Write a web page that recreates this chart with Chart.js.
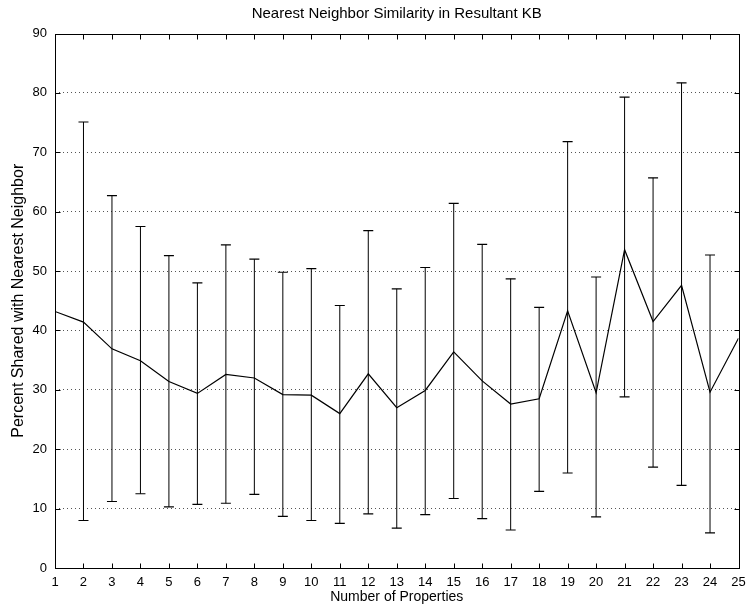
<!DOCTYPE html>
<html>
<head>
<meta charset="utf-8">
<script src="https://cdn.jsdelivr.net/npm/chart.js@4/dist/chart.umd.min.js"></script>
<style>
  html, body { margin: 0; padding: 0; background: #fff; }
  canvas { display: block; }
</style>
</head>
<body>
<canvas id="c" width="746" height="611"></canvas>
<script>
// ---- data ----
const properties = [1,2,3,4,5,6,7,8,9,10,11,12,13,14,15,16,17,18,19,20,21,22,23,24,25];
const meanShared = [43.2, 41.4, 36.9, 34.9, 31.4, 29.4, 32.6, 32.0, 29.2, 29.1, 26.0, 32.7, 27.0, 29.9, 36.4, 31.5, 27.6, 28.5, 43.3, 29.5, 53.6, 41.5, 47.6, 29.6, 38.7];
const upperShared = [null, 75.1, 62.7, 57.5, 52.6, 48.0, 54.4, 52.0, 49.8, 50.4, 44.2, 56.8, 47.0, 50.6, 61.4, 54.5, 48.7, 43.9, 71.8, 49.0, 79.3, 65.7, 81.7, 52.7, null];
const lowerShared = [null, 8.0, 11.2, 12.5, 10.3, 10.7, 10.9, 12.4, 8.7, 8.0, 7.5, 9.1, 6.7, 9.0, 11.7, 8.3, 6.4, 12.9, 16.0, 8.6, 28.8, 17.0, 13.9, 5.9, null];
const yTickValues = [0,10,20,30,40,50,60,70,80,90];

// ---- derived tables ----
const meanPts = properties.map((p, i) => ({x: p, y: meanShared[i]}));
const barPts = [];
const capPts = [];
properties.forEach((p, i) => {
  if (lowerShared[i] == null || upperShared[i] == null) return;
  barPts.push({x: p, y: lowerShared[i]}, {x: p, y: upperShared[i]}, {x: p, y: null});
  capPts.push({x: p, y: lowerShared[i]}, {x: p, y: upperShared[i]});
});

const FONT = "'Liberation Sans', Arial, Helvetica, sans-serif";

const boxPlugin = {
  id: 'boxTicks',
  afterDatasetsDraw(chart) {
    const {ctx, chartArea: a, scales: {x, y}} = chart;
    const L = Math.round(a.left) + 0.5, R = Math.round(a.right) + 0.5;
    const T = Math.round(a.top) + 0.5, B = Math.round(a.bottom) + 0.5;
    ctx.save();
    ctx.strokeStyle = '#000';
    ctx.lineWidth = 1;
    ctx.strokeRect(L, T, R - L, B - T);
    const tl = 5;
    ctx.beginPath();
    x.ticks.forEach(t => {
      const px = Math.round(x.getPixelForValue(t.value)) + 0.5;
      ctx.moveTo(px, B); ctx.lineTo(px, B - tl);
      ctx.moveTo(px, T); ctx.lineTo(px, T + tl);
    });
    y.ticks.forEach(t => {
      const py = Math.round(y.getPixelForValue(t.value)) + 0.5;
      ctx.moveTo(L, py); ctx.lineTo(L + tl, py);
      ctx.moveTo(R, py); ctx.lineTo(R - tl, py);
    });
    ctx.stroke();
    ctx.restore();
  }
};

const bgPlugin = {
  id: 'bg',
  beforeDraw(chart) {
    const ctx = chart.ctx;
    ctx.save();
    ctx.fillStyle = '#fff';
    ctx.fillRect(0, 0, chart.width, chart.height);
    ctx.restore();
  }
};

new Chart(document.getElementById('c'), {
  type: 'line',
  data: {
    datasets: [
      {
        label: 'Mean',
        data: meanPts,
        borderColor: '#000',
        borderWidth: 1.2,
        pointRadius: 0,
        tension: 0,
        fill: false
      },
      {
        label: 'Range',
        data: barPts,
        borderColor: '#000',
        borderWidth: 1,
        pointRadius: 0,
        spanGaps: false,
        tension: 0,
        fill: false
      },
      {
        label: 'Caps',
        data: capPts,
        showLine: false,
        pointStyle: 'line',
        pointRadius: 5,
        borderColor: '#000',
        borderWidth: 1.2,
        backgroundColor: '#000'
      }
    ]
  },
  options: {
    responsive: false,
    animation: false,
    events: [],
    layout: { padding: { top: 0, right: 0, bottom: 0, left: 0 } },
    plugins: {
      legend: { display: false },
      tooltip: { enabled: false },
      title: { display: false }
    },
    scales: {
      xTop: {
        type: 'linear',
        position: 'top',
        min: 1,
        max: 25,
        afterFit: s => { s.height = 33.5; s.paddingRight = 7.5; s.paddingLeft = 0; },
        ticks: { display: false },
        grid: { display: false, drawTicks: false },
        border: { display: false },
        title: {
          display: true,
          text: 'Nearest Neighbor Similarity in Resultant KB',
          color: '#000',
          font: { family: FONT, size: 15, weight: 'normal', lineHeight: 1.2 },
          padding: { top: 5, bottom: 0 }
        }
      },
      x: {
        type: 'linear',
        min: 1,
        max: 25,
        afterFit: s => { s.height = 43; s.paddingRight = 7.5; s.paddingLeft = 0; },
        afterBuildTicks: s => { s.ticks = properties.map(v => ({value: v})); },
        ticks: {
          color: '#000',
          font: { family: FONT, size: 13 },
          padding: 7,
          maxRotation: 0,
          autoSkip: false
        },
        grid: { display: false, drawTicks: false },
        border: { display: false },
        title: {
          display: true,
          text: 'Number of Properties',
          color: '#000',
          font: { family: FONT, size: 14, lineHeight: 1.2 },
          padding: { top: 0, bottom: 5 }
        }
      },
      y: {
        type: 'linear',
        min: 0,
        max: 90,
        afterFit: s => { s.width = 55; },
        afterBuildTicks: s => { s.ticks = yTickValues.map(v => ({value: v})); },
        ticks: {
          color: '#000',
          font: { family: FONT, size: 13 },
          padding: 8
        },
        grid: {
          drawTicks: false,
          lineWidth: 1,
          color: c => (c.tick && (c.tick.value === 0 || c.tick.value === 90)) ? 'rgba(0,0,0,0)' : '#555'
        },
        border: { display: false, dash: [1, 3] },
        title: {
          display: true,
          text: 'Percent Shared with Nearest Neighbor',
          color: '#000',
          font: { family: FONT, size: 16, lineHeight: 1.2 },
          padding: { top: 8.5, bottom: 0 }
        }
      }
    }
  },
  plugins: [bgPlugin, boxPlugin]
});
</script>
</body>
</html>
